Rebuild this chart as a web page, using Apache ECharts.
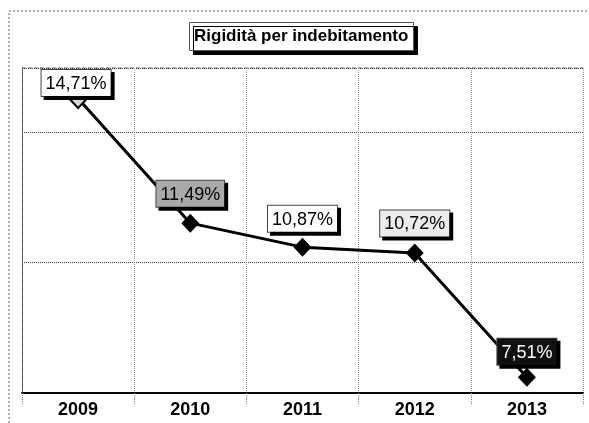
<!DOCTYPE html>
<html>
<head>
<meta charset="utf-8">
<script src="https://cdn.jsdelivr.net/npm/echarts@6/dist/echarts.min.js"></script>
<style>
  html, body { margin: 0; padding: 0; background: #fff; }
  #chart { width: 589px; height: 423px; }
</style>
</head>
<body>
<div id="chart"></div>
<script>
// Anni e valori dell'indicatore
const years = ['2009', '2010', '2011', '2012', '2013'];
const values = [14.71, 11.49, 10.87, 10.72, 7.51];
const chartTitle = 'Rigidità per indebitamento';

// Stile di ciascuna etichetta (sfondo, colore testo, spostamento)
const labelBg = ['#ffffff', '#a9a9a9', '#ffffff', '#ececec', '#111111'];
const labelFg = ['#000000', '#000000', '#000000', '#000000', '#ffffff'];
const labelShift = [[-2, 15], [0, 0], [0, 1], [0, 0], [0, 4]];

const fmt = v => v.toFixed(2).replace('.', ',') + '%';

const GRID = { left: 22, right: 6, top: 68, bottom: 30 };

const seriesData = values.map((v, i) => ({
  value: v,
  itemStyle: i === 0
    ? { color: '#d8d8d8', borderColor: '#000', borderWidth: 2 }
    : { color: '#000' },
  label: {
    backgroundColor: labelBg[i],
    color: labelFg[i],
    offset: labelShift[i]
  }
}));

const chart = echarts.init(document.getElementById('chart'), null, { renderer: 'canvas' });
chart.setOption({
  animation: false,
  backgroundColor: '#fff',
  title: {
    text: chartTitle,
    left: 189,
    top: 22,
    padding: [6, 5, 6, 5],
    backgroundColor: '#fff',
    borderColor: '#555',
    borderWidth: 1,
    shadowColor: '#000',
    shadowOffsetX: 4,
    shadowOffsetY: 4,
    shadowBlur: 0,
    textStyle: {
      fontFamily: 'Liberation Sans, Arial, sans-serif',
      fontWeight: 'bold',
      fontSize: 17,
      color: '#000'
    }
  },
  grid: GRID,
  xAxis: {
    type: 'category',
    data: years,
    boundaryGap: true,
    axisLine: { lineStyle: { color: '#000', width: 2 } },
    axisTick: { show: true, length: 12, interval: 0, lineStyle: { color: '#777', type: 'dotted' } },
    axisLabel: {
      margin: 8,
      fontFamily: 'Liberation Sans, Arial, sans-serif',
      fontWeight: 'bold',
      fontSize: 18,
      color: '#000'
    },
    splitLine: { show: true, interval: 0, lineStyle: { color: '#999', type: 'dotted', width: 1 } }
  },
  yAxis: {
    type: 'value',
    min: 7.1,
    max: 15.5,
    interval: 3.37,
    axisLabel: { show: false },
    axisTick: { show: false },
    axisLine: { show: true, lineStyle: { color: '#333', type: 'dotted', width: 1 } },
    splitLine: { show: true, lineStyle: { color: '#444', type: 'dotted', width: 1 } }
  },
  graphic: [
    {
      // cornice esterna del grafico
      type: 'rect',
      silent: true,
      shape: { x: 9, y: 11, width: 640, height: 460 },
      style: { fill: 'none', stroke: '#666', lineWidth: 1, lineDash: [2, 2] },
      z: -1
    },
    {
      // bordo superiore dell'area del grafico
      type: 'line',
      silent: true,
      shape: { x1: GRID.left, y1: GRID.top, x2: 589 - GRID.right, y2: GRID.top },
      style: { stroke: '#555', lineWidth: 1, lineDash: [4, 2] }
    }
  ],
  series: [{
    type: 'line',
    data: seriesData,
    symbol: 'diamond',
    symbolSize: [18, 19],
    lineStyle: { color: '#000', width: 3 },
    label: {
      show: true,
      position: 'top',
      distance: 7,
      formatter: p => fmt(p.value),
      fontFamily: 'Liberation Sans, Arial, sans-serif',
      fontSize: 18,
      padding: [5, 4, 3, 4],
      borderColor: '#444',
      borderWidth: 1,
      shadowColor: '#000',
      shadowOffsetX: 3,
      shadowOffsetY: 3,
      shadowBlur: 0
    },
    z: 3
  }]
});
</script>
</body>
</html>
